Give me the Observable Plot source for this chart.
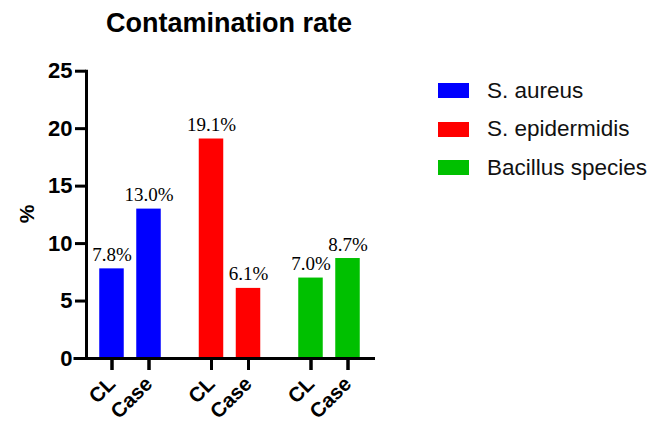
<!DOCTYPE html>
<html>
<head>
<meta charset="utf-8">
<script src="https://cdn.jsdelivr.net/npm/d3@7"></script>
<script src="https://cdn.jsdelivr.net/npm/@observablehq/plot@0.6"></script>
<style>
  html, body { margin: 0; padding: 0; background: #fff; }
  #wrap { position: relative; width: 653px; height: 423px; overflow: hidden; font-family: "Liberation Sans", Arial, sans-serif; }
  #wrap svg { position: absolute; left: 0; top: 0; }
  .title { position: absolute; left: 0; top: 10px; width: 458px; text-align: center; font-size: 27px; line-height: 27px; font-weight: bold; color: #000; }
  .ylab { position: absolute; left: 26px; top: 214px; font-size: 21px; font-weight: bold; transform: translate(-50%, -50%) rotate(-90deg); line-height: 21px; }
  .legend { position: absolute; left: 438px; top: 83px; }
  .row { position: absolute; left: 0; height: 15px; display: flex; align-items: center; white-space: nowrap; }
  .sw { width: 31px; height: 15px; margin-right: 18px; }
  .lt { font-size: 22.5px; line-height: 22px; color: #111; }
</style>
</head>
<body>
<div id="wrap">
  <div class="title">Contamination rate</div>
  <div class="ylab">%</div>
  <div class="legend" id="legend"></div>
</div>
<script>
const groups = ["S. aureus", "S. epidermidis", "Bacillus species"];
const conditions = ["CL", "Case"];
const clValues = [7.8, 19.1, 7.0];
const caseValues = [13.0, 6.1, 8.7];
const colors = ["#0000ff", "#ff0000", "#00c000"];
const yTicks = [0, 5, 10, 15, 20, 25];

const data = [];
groups.forEach((g, i) => {
  data.push({group: g, cond: "CL", value: clValues[i]});
  data.push({group: g, cond: "Case", value: caseValues[i]});
});

const chart = Plot.plot({
  width: 653,
  height: 423,
  marginTop: 70.7,
  marginBottom: 65,
  marginLeft: 86,
  marginRight: 280,
  style: {fontFamily: "'Liberation Sans', Arial, sans-serif"},
  fx: {domain: groups, paddingInner: 0.1156, paddingOuter: 0, round: false, axis: null, label: null},
  x: {domain: conditions, paddingInner: 0.338, paddingOuter: 0.358, round: false, axis: null, label: null},
  y: {domain: [0, 25], axis: null, label: null},
  color: {domain: groups, range: colors},
  marks: [
    Plot.barY(data, {fx: "group", x: "cond", y: "value", fill: "group"}),
    Plot.text(data, {
      fx: "group", x: "cond", y: "value",
      text: d => d.value.toFixed(1) + "%",
      lineAnchor: "bottom", dy: -8,
      fontFamily: "'Liberation Serif', 'Times New Roman', serif",
      fontSize: 19
    }),
    Plot.frame({anchor: "bottom", insetLeft: -11.5, strokeWidth: 3}),
    Plot.frame({anchor: "left", facetAnchor: "left", strokeWidth: 3}),
    Plot.ruleX(data, {fx: "group", x: "cond", y1: 0, y2: 0, insetTop: 0, insetBottom: -12, strokeWidth: 3}),
    Plot.axisY({ticks: yTicks, tickSize: 11, tickPadding: 3, strokeWidth: 3, fontSize: 22, fontWeight: "bold", label: null}),
    Plot.axisX({tickRotate: -45, tickSize: 12, tickPadding: 10, strokeWidth: 3, fontSize: 20.5, fontWeight: "bold", label: null})
  ]
});
document.getElementById("wrap").prepend(chart);

const legend = document.getElementById("legend");
groups.forEach((g, i) => {
  const row = document.createElement("div");
  row.className = "row";
  row.style.top = (i * 38.5) + "px";
  const sw = document.createElement("div");
  sw.className = "sw";
  sw.style.background = colors[i];
  const t = document.createElement("span");
  t.className = "lt";
  t.textContent = g;
  row.appendChild(sw);
  row.appendChild(t);
  legend.appendChild(row);
});
</script>
</body>
</html>
